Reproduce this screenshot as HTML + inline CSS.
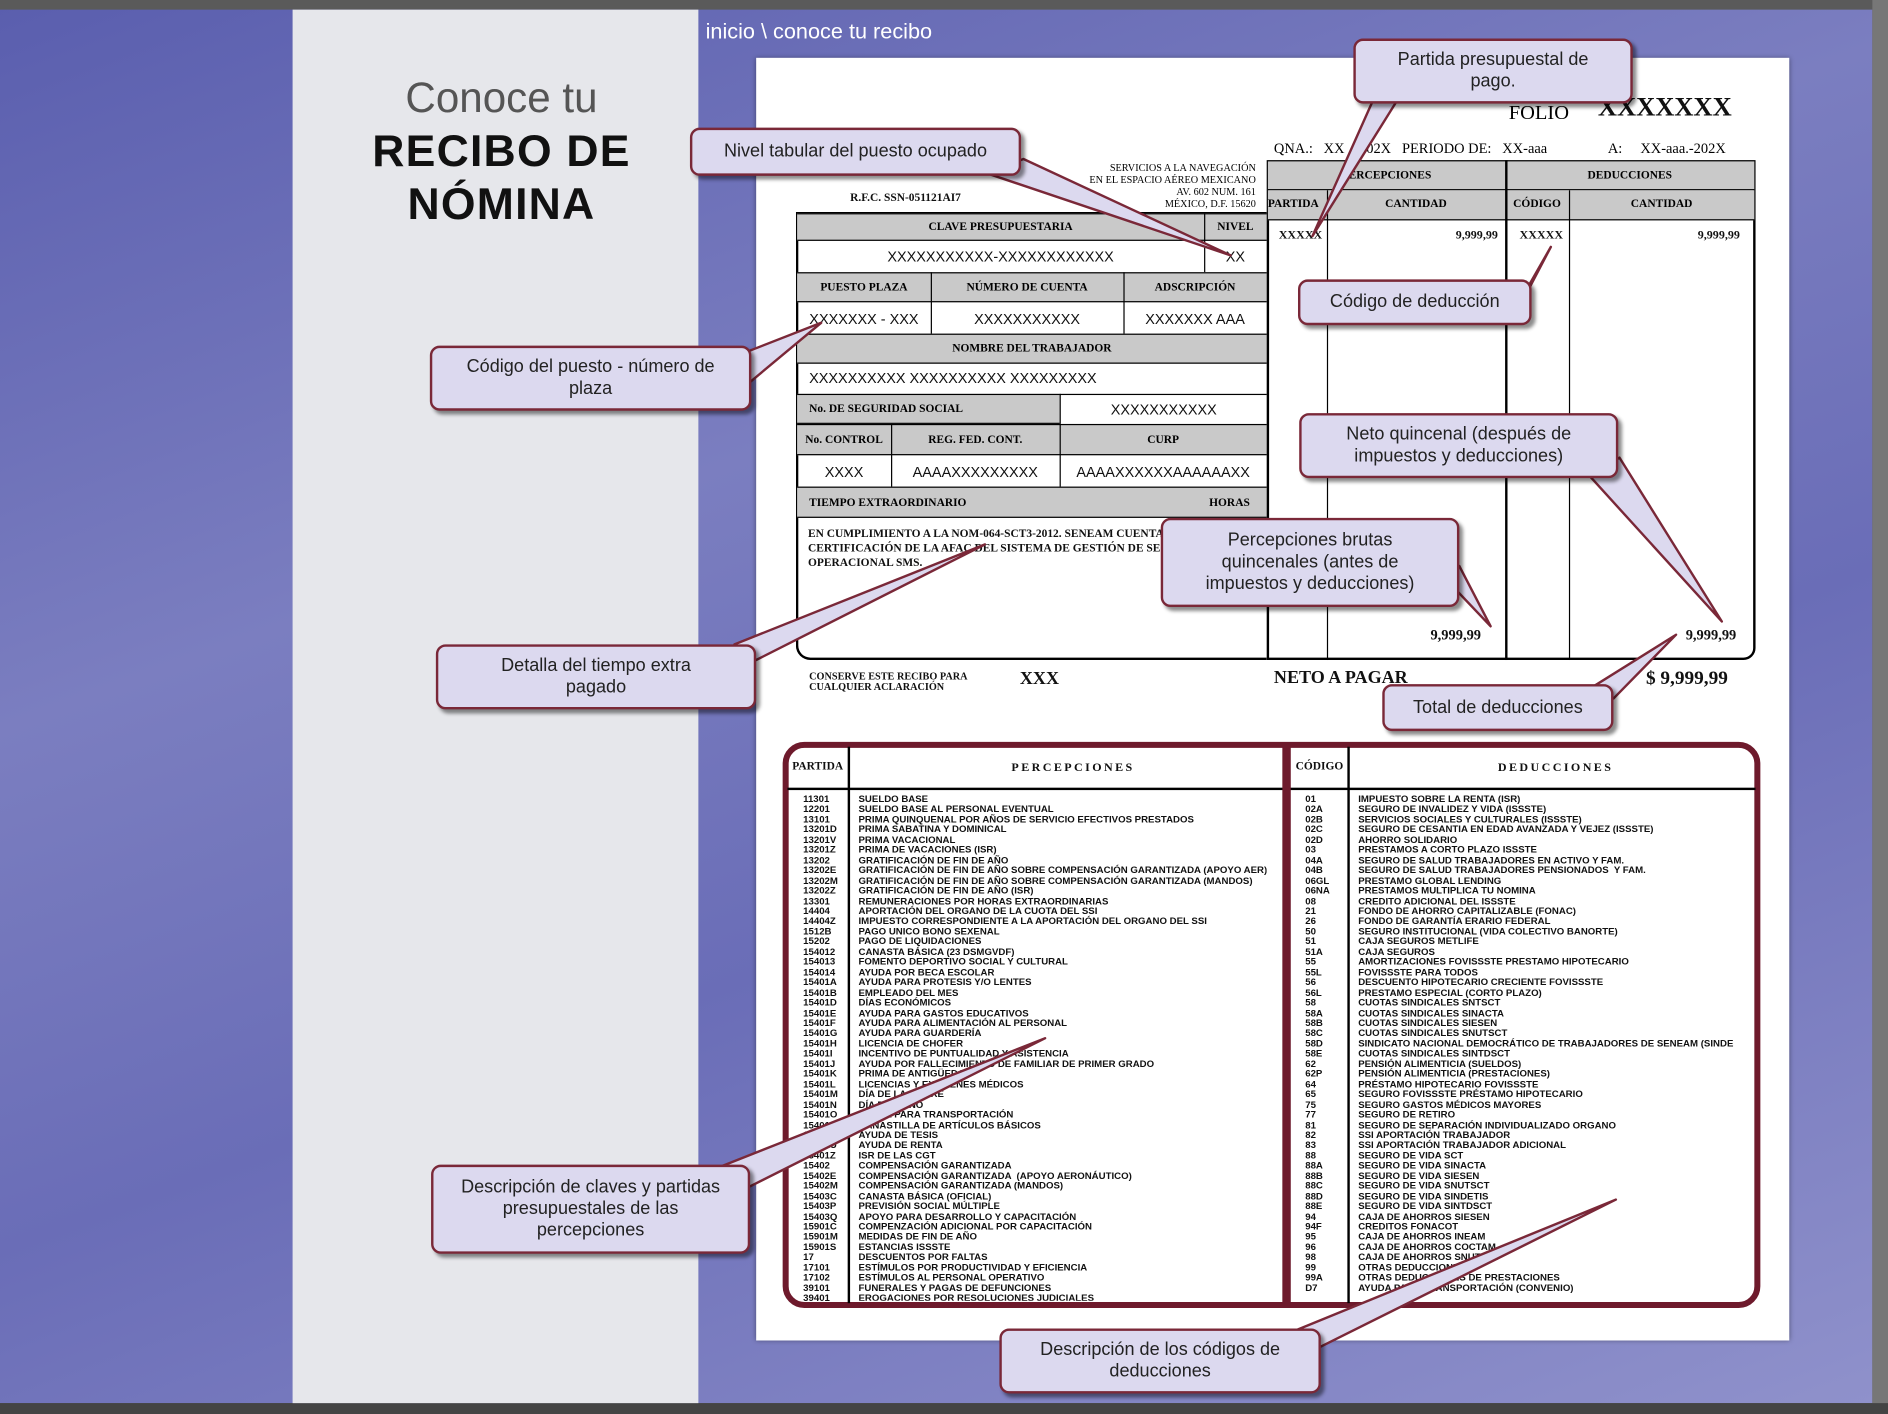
<!DOCTYPE html>
<html><head><meta charset="utf-8">
<style>
html,body{margin:0;padding:0;width:1888px;height:1414px;overflow:hidden;background:#555}
#w{position:absolute;left:0;top:0;width:1568px;height:1174px;transform:scale(1.20408,1.2044);transform-origin:0 0;overflow:hidden;font-family:"Liberation Sans",sans-serif}
.a{position:absolute}
.bg{left:0;top:0;width:1555px;height:1165px;background:linear-gradient(160deg,#5a5eae 0%,#7b7ec0 35%,#6a6db7 60%,#8f91cb 100%)}
.gray{left:243px;top:8px;width:337px;height:1157px;background:#e6e7eb}
.paper{left:628px;top:48px;width:858px;height:1065px;background:#fff;box-shadow:0 0 4px rgba(0,0,0,.4)}
.sf{font-family:"Liberation Serif",serif;font-weight:bold;color:#111}
.g{position:absolute;background:#c9c9c9;border-bottom:1px solid #000;border-top:1px solid #000;font-family:"Liberation Serif",serif;font-weight:bold;font-size:9.5px;text-align:center;box-sizing:border-box}
.v{position:absolute;font-family:"Liberation Sans",sans-serif;font-size:12px;text-align:center;color:#111}
.vl{position:absolute;width:1px;background:#000}
.co{position:absolute;background:#dcd9ef;border:2px solid #7a2838;border-radius:8px;box-shadow:3px 3px 3px rgba(0,0,0,.45);font-size:15px;color:#222;text-align:center;display:flex;align-items:center;justify-content:center;line-height:18px;box-sizing:border-box}
.lst{position:absolute;font-size:8px;font-weight:bold;line-height:8.45px;color:#111;white-space:pre}
</style></head><body><div id="w">
<div class="a bg"></div>
<div class="a" style="left:0;top:0;width:1568px;height:8px;background:#5a5a5a"></div>
<div class="a" style="left:1555px;top:0;width:13px;height:1174px;background:#777"></div>
<div class="a" style="left:0;top:1165px;width:1568px;height:9px;background:#444"></div>
<div class="a gray"></div>
<div class="a" style="left:586px;top:16px;color:#fff;font-size:18px">inicio \ conoce tu recibo</div>
<div class="a" style="left:248px;width:337px;top:62px;text-align:center;font-size:35px;color:#555">Conoce tu</div>
<div class="a" style="left:248px;width:337px;top:104px;text-align:center;font-size:37px;font-weight:bold;color:#111;line-height:44px;letter-spacing:1px">RECIBO DE<br>NÓMINA</div>
<div class="a paper"></div>

<!-- header -->
<div class="a" style="left:1253px;top:84px;font-family:'Liberation Serif',serif;font-size:17px">FOLIO</div>
<div class="a sf" style="left:1327px;top:76px;font-size:22px">XXXXXXX</div>
<div class="a" style="left:1058px;top:116px;font-family:'Liberation Serif',serif;font-size:12px;white-space:pre">QNA.:   XX    202X   PERIODO DE:   XX-aaa                 A:     XX-aaa.-202X</div>
<div class="a" style="left:880px;width:163px;top:134px;font-family:'Liberation Serif',serif;font-size:8.5px;text-align:right;line-height:10px">SERVICIOS A LA NAVEGACIÓN<br>EN EL ESPACIO AÉREO MEXICANO<br>AV. 602 NUM. 161<br>MÉXICO, D.F. 15620</div>
<div class="a sf" style="left:706px;top:160px;font-size:9.5px">R.F.C.  SSN-051121AI7</div>

<!-- left form -->
<div class="a" style="left:661px;top:176px;width:391px;height:372px;border:2px solid #000;border-radius:0 0 0 12px;box-sizing:border-box;border-right:none"></div>
<div class="g" style="left:662px;top:177px;width:390px;height:23px;line-height:23px"><span style="position:absolute;left:0;width:338px">CLAVE  PRESUPUESTARIA</span><span style="position:absolute;left:338px;width:52px">NIVEL</span></div>
<div class="vl" style="left:1000px;top:177px;height:49px"></div>
<div class="v" style="left:662px;width:338px;top:206px">XXXXXXXXXXX-XXXXXXXXXXXX</div>
<div class="v" style="left:1000px;width:52px;top:206px">XX</div>
<div class="g" style="left:662px;top:226px;width:390px;height:25px;line-height:25px"><span style="position:absolute;left:0;width:111px">PUESTO PLAZA</span><span style="position:absolute;left:111px;width:160px">NÚMERO DE CUENTA</span><span style="position:absolute;left:271px;width:119px">ADSCRIPCIÓN</span></div>
<div class="vl" style="left:773px;top:226px;height:51px"></div><div class="vl" style="left:933px;top:226px;height:51px"></div>
<div class="v" style="left:662px;width:111px;top:258px">XXXXXXX - XXX</div>
<div class="v" style="left:773px;width:160px;top:258px">XXXXXXXXXXX</div>
<div class="v" style="left:933px;width:119px;top:258px">XXXXXXX AAA</div>
<div class="g" style="left:662px;top:277px;width:390px;height:25px;line-height:25px">NOMBRE DEL TRABAJADOR</div>
<div class="v" style="left:672px;top:307px;text-align:left">XXXXXXXXXX XXXXXXXXXX XXXXXXXXX</div>
<div class="g" style="left:662px;top:327px;width:218px;height:25px;line-height:25px;text-align:left;padding-left:10px">No. DE SEGURIDAD SOCIAL</div>
<div class="v" style="left:880px;width:172px;border-top:1px solid #000;border-left:1px solid #000;top:327px;height:25px;line-height:25px;box-sizing:border-box">XXXXXXXXXXX</div>
<div class="g" style="left:662px;top:352px;width:390px;height:26px;line-height:26px"><span style="position:absolute;left:0;width:78px">No. CONTROL</span><span style="position:absolute;left:78px;width:140px">REG. FED. CONT.</span><span style="position:absolute;left:218px;width:172px">CURP</span></div>
<div class="vl" style="left:740px;top:352px;height:52px"></div><div class="vl" style="left:880px;top:352px;height:52px"></div>
<div class="v" style="left:662px;width:78px;top:385px">XXXX</div>
<div class="v" style="left:740px;width:140px;top:385px">AAAAXXXXXXXXX</div>
<div class="v" style="left:880px;width:172px;top:385px">AAAAXXXXXXAAAAAAXX</div>
<div class="g" style="left:662px;top:404px;width:390px;height:26px;line-height:26px;text-align:left;padding-left:10px">TIEMPO EXTRAORDINARIO<span style="position:absolute;right:14px">HORAS</span></div>
<div class="a sf" style="left:671px;top:438px;font-size:9.5px;line-height:12px;width:360px">EN CUMPLIMIENTO A LA NOM-064-SCT3-2012. SENEAM CUENTA CON UNA CERTIFICACIÓN DE LA AFAC DEL SISTEMA DE GESTIÓN DE SEGURIDAD OPERACIONAL SMS.</div>

<!-- right form -->
<div class="a" style="left:1052px;top:133px;width:406px;height:415px;border:2px solid #000;border-radius:0 0 10px 0;box-sizing:border-box"></div>
<div class="g" style="left:1053px;top:134px;width:404px;height:24px;line-height:24px;border-top:none"><span style="position:absolute;left:0;width:197px">PERCEPCIONES</span><span style="position:absolute;left:197px;width:207px">DEDUCCIONES</span></div>
<div class="g" style="left:1053px;top:158px;width:404px;height:25px;line-height:25px;border-top:none"><span style="position:absolute;left:0;width:49px;text-align:left">PARTIDA</span><span style="position:absolute;left:49px;width:148px">CANTIDAD</span><span style="position:absolute;left:197px;width:53px">CÓDIGO</span><span style="position:absolute;left:250px;width:154px">CANTIDAD</span></div>
<div class="vl" style="left:1250px;top:133px;height:415px;width:2px"></div>
<div class="vl" style="left:1102px;top:158px;height:390px"></div>
<div class="vl" style="left:1303px;top:158px;height:390px"></div>
<div class="a sf" style="left:1062px;top:190px;font-size:10px">XXXXX</div>
<div class="a sf" style="left:1209px;top:190px;font-size:10px">9,999,99</div>
<div class="a sf" style="left:1262px;top:190px;font-size:10px">XXXXX</div>
<div class="a sf" style="left:1410px;top:190px;font-size:10px">9,999,99</div>
<div class="a sf" style="left:1188px;top:520px;font-size:12px">9,999,99</div>
<div class="a sf" style="left:1400px;top:520px;font-size:12px">9,999,99</div>
<div class="a sf" style="left:672px;top:557px;font-size:8.5px;line-height:9px">CONSERVE ESTE RECIBO PARA<br>CUALQUIER ACLARACIÓN</div>
<div class="a sf" style="left:847px;top:556px;font-size:15px">XXX</div>
<div class="a sf" style="left:1058px;top:555px;font-size:15px">NETO A PAGAR</div>
<div class="a sf" style="left:1367px;top:555px;font-size:16px">$  9,999,99</div>

<!-- lower table -->
<div class="a" style="left:650px;top:616px;width:812px;height:470px;border:5px solid #6e1a2c;border-radius:18px;box-sizing:border-box"></div>
<div class="a" style="left:654px;top:654px;width:804px;height:2px;background:#000"></div>
<div class="a" style="left:704px;top:620px;width:2px;height:462px;background:#000"></div>
<div class="a" style="left:1065px;top:620px;width:7px;height:462px;background:#6e1a2c"></div>
<div class="a" style="left:1119px;top:620px;width:2px;height:462px;background:#000"></div>
<div class="a sf" style="left:658px;top:632px;font-size:9.5px">PARTIDA</div>
<div class="a sf" style="left:840px;top:632px;font-size:10px;letter-spacing:2px">PERCEPCIONES</div>
<div class="a sf" style="left:1076px;top:632px;font-size:9.5px">CÓDIGO</div>
<div class="a sf" style="left:1244px;top:632px;font-size:10px;letter-spacing:2px">DEDUCCIONES</div>
<div class="lst" style="left:667px;top:660px">11301
12201
13101
13201D
13201V
13201Z
13202
13202E
13202M
13202Z
13301
14404
14404Z
1512B
15202
154012
154013
154014
15401A
15401B
15401D
15401E
15401F
15401G
15401H
15401I
15401J
15401K
15401L
15401M
15401N
15401O
15401P
15401T
15401U
15401Z
15402
15402E
15402M
15403C
15403P
15403Q
15901C
15901M
15901S
17
17101
17102
39101
39401</div>
<div class="lst" style="left:713px;top:660px;height:420px;overflow:hidden">SUELDO BASE
SUELDO BASE AL PERSONAL EVENTUAL
PRIMA QUINQUENAL POR AÑOS DE SERVICIO EFECTIVOS PRESTADOS
PRIMA SABATINA Y DOMINICAL
PRIMA VACACIONAL
PRIMA DE VACACIONES (ISR)
GRATIFICACIÓN DE FIN DE AÑO
GRATIFICACIÓN DE FIN DE AÑO SOBRE COMPENSACIÓN GARANTIZADA (APOYO AER)
GRATIFICACIÓN DE FIN DE AÑO SOBRE COMPENSACIÓN GARANTIZADA (MANDOS)
GRATIFICACIÓN DE FIN DE AÑO (ISR)
REMUNERACIONES POR HORAS EXTRAORDINARIAS
APORTACIÓN DEL ORGANO DE LA CUOTA DEL SSI
IMPUESTO CORRESPONDIENTE A LA APORTACIÓN DEL ORGANO DEL SSI
PAGO UNICO BONO SEXENAL
PAGO DE LIQUIDACIONES
CANASTA BÁSICA (23 DSMGVDF)
FOMENTO DEPORTIVO SOCIAL Y CULTURAL
AYUDA POR BECA ESCOLAR
AYUDA PARA PROTESIS Y/O LENTES
EMPLEADO DEL MES
DÍAS ECONÓMICOS
AYUDA PARA GASTOS EDUCATIVOS
AYUDA PARA ALIMENTACIÓN AL PERSONAL
AYUDA PARA GUARDERÍA
LICENCIA DE CHOFER
INCENTIVO DE PUNTUALIDAD Y ASISTENCIA
AYUDA POR FALLECIMIENTO DE FAMILIAR DE PRIMER GRADO
PRIMA DE ANTIGÜEDAD
LICENCIAS Y EXÁMENES MÉDICOS
DÍA DE LA MADRE
DÍA DEL NIÑO
AYUDA PARA TRANSPORTACIÓN
CANASTILLA DE ARTÍCULOS BÁSICOS
AYUDA DE TESIS
AYUDA DE RENTA
ISR DE LAS CGT
COMPENSACIÓN GARANTIZADA
COMPENSACIÓN GARANTIZADA  (APOYO AERONÁUTICO)
COMPENSACIÓN GARANTIZADA (MANDOS)
CANASTA BÁSICA (OFICIAL)
PREVISIÓN SOCIAL MÚLTIPLE
APOYO PARA DESARROLLO Y CAPACITACIÓN
COMPENZACIÓN ADICIONAL POR CAPACITACIÓN
MEDIDAS DE FIN DE AÑO
ESTANCIAS ISSSTE
DESCUENTOS POR FALTAS
ESTÍMULOS POR PRODUCTIVIDAD Y EFICIENCIA
ESTÍMULOS AL PERSONAL OPERATIVO
FUNERALES Y PAGAS DE DEFUNCIONES
EROGACIONES POR RESOLUCIONES JUDICIALES</div>
<div class="lst" style="left:1084px;top:660px">01
02A
02B
02C
02D
03
04A
04B
06GL
06NA
08
21
26
50
51
51A
55
55L
56
56L
58
58A
58B
58C
58D
58E
62
62P
64
65
75
77
81
82
83
88
88A
88B
88C
88D
88E
94
94F
95
96
98
99
99A
D7</div>
<div class="lst" style="left:1128px;top:660px;width:326px;overflow:hidden">IMPUESTO SOBRE LA RENTA (ISR)
SEGURO DE INVALIDEZ Y VIDA (ISSSTE)
SERVICIOS SOCIALES Y CULTURALES (ISSSTE)
SEGURO DE CESANTIA EN EDAD AVANZADA Y VEJEZ (ISSSTE)
AHORRO SOLIDARIO
PRESTAMOS A CORTO PLAZO ISSSTE
SEGURO DE SALUD TRABAJADORES EN ACTIVO Y FAM.
SEGURO DE SALUD TRABAJADORES PENSIONADOS  Y FAM.
PRESTAMO GLOBAL LENDING
PRESTAMOS MULTIPLICA TU NOMINA
CREDITO ADICIONAL DEL ISSSTE
FONDO DE AHORRO CAPITALIZABLE (FONAC)
FONDO DE GARANTÍA ERARIO FEDERAL
SEGURO INSTITUCIONAL (VIDA COLECTIVO BANORTE)
CAJA SEGUROS METLIFE
CAJA SEGUROS
AMORTIZACIONES FOVISSSTE PRESTAMO HIPOTECARIO
FOVISSSTE PARA TODOS
DESCUENTO HIPOTECARIO CRECIENTE FOVISSSTE
PRESTAMO ESPECIAL (CORTO PLAZO)
CUOTAS SINDICALES SNTSCT
CUOTAS SINDICALES SINACTA
CUOTAS SINDICALES SIESEN
CUOTAS SINDICALES SNUTSCT
SINDICATO NACIONAL DEMOCRÁTICO DE TRABAJADORES DE SENEAM (SINDE
CUOTAS SINDICALES SINTDSCT
PENSIÓN ALIMENTICIA (SUELDOS)
PENSIÓN ALIMENTICIA (PRESTACIONES)
PRÉSTAMO HIPOTECARIO FOVISSSTE
SEGURO FOVISSSTE PRÉSTAMO HIPOTECARIO
SEGURO GASTOS MÉDICOS MAYORES
SEGURO DE RETIRO
SEGURO DE SEPARACIÓN INDIVIDUALIZADO ORGANO
SSI APORTACIÓN TRABAJADOR
SSI APORTACIÓN TRABAJADOR ADICIONAL
SEGURO DE VIDA SCT
SEGURO DE VIDA SINACTA
SEGURO DE VIDA SIESEN
SEGURO DE VIDA SNUTSCT
SEGURO DE VIDA SINDETIS
SEGURO DE VIDA SINTDSCT
CAJA DE AHORROS SIESEN
CREDITOS FONACOT
CAJA DE AHORROS INEAM
CAJA DE AHORROS COCTAM
CAJA DE AHORROS SNUTSCT
OTRAS DEDUCCIONES
OTRAS DEDUCCIONES DE PRESTACIONES
AYUDA PARA TRANSPORTACIÓN (CONVENIO)</div>

<!-- pointers -->
<svg class="a" style="left:0;top:0" width="1568" height="1174">
<g fill="#dcd9ef" stroke="#7a2838" stroke-width="2" stroke-linejoin="round">
<polygon points="1140,84 1090,196 1160,84"/>
<polygon points="820,144 1022,212 850,132"/>
<polygon points="1255,268 1288,205 1268,240"/>
<polygon points="600,300 682,268 622,318"/>
<polygon points="1320,395 1430,516 1345,380"/>
<polygon points="1200,480 1238,520 1212,470"/>
<polygon points="610,535 818,452 628,548"/>
<polygon points="1320,572 1392,527 1340,580"/>
<polygon points="600,968 868,862 623,985"/>
<polygon points="1075,1105 1342,996 1097,1118"/>
</g></svg>
<div class="co" style="left:1124px;top:32px;width:232px;height:54px">Partida presupuestal de<br>pago.</div>
<div class="co" style="left:573px;top:106px;width:275px;height:40px">Nivel tabular del puesto ocupado</div>
<div class="co" style="left:1078px;top:232px;width:194px;height:38px">Código de deducción</div>
<div class="co" style="left:357px;top:287px;width:267px;height:54px">Código del puesto - número de<br>plaza</div>
<div class="co" style="left:1079px;top:343px;width:265px;height:54px">Neto quincenal (después de<br>impuestos y deducciones)</div>
<div class="co" style="left:964px;top:430px;width:248px;height:74px">Percepciones brutas<br>quincenales (antes de<br>impuestos y deducciones)</div>
<div class="co" style="left:362px;top:535px;width:266px;height:54px">Detalla del tiempo extra<br>pagado</div>
<div class="co" style="left:1148px;top:568px;width:192px;height:39px">Total de  deducciones</div>
<div class="co" style="left:358px;top:967px;width:265px;height:74px">Descripción de claves y partidas<br>presupuestales de las<br>percepciones</div>
<div class="co" style="left:830px;top:1103px;width:267px;height:54px">Descripción de los códigos de<br>deducciones</div>
</div></body></html>
